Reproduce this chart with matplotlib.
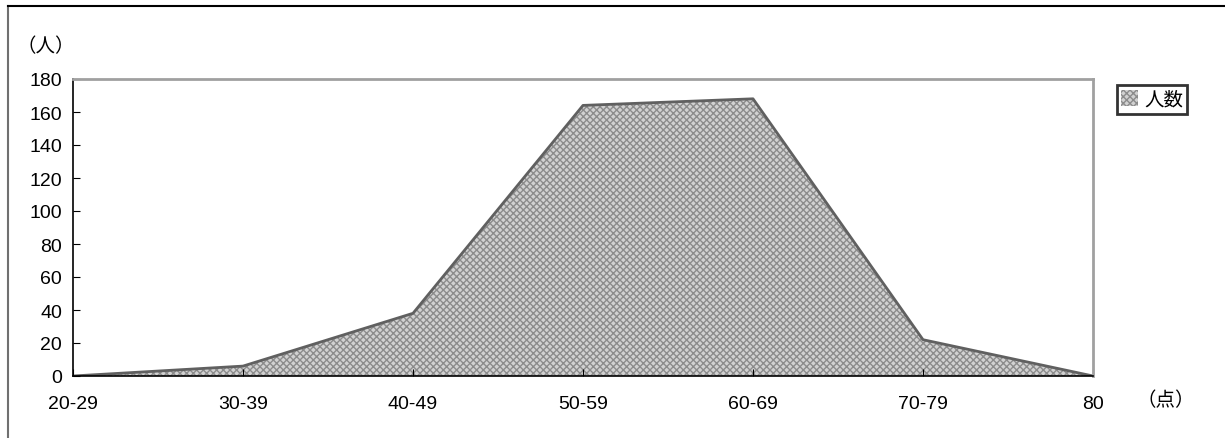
import matplotlib.pyplot as plt
from matplotlib.lines import Line2D
from matplotlib.patches import Patch

plt.rcParams['font.family'] = ['Liberation Sans', 'Noto Sans CJK JP', 'DejaVu Sans']
plt.rcParams['hatch.color'] = '#8c8c8c'
plt.rcParams['hatch.linewidth'] = 1.0

# score bands and number of people
labels = ['20-29', '30-39', '40-49', '50-59', '60-69', '70-79', '80']
counts = [0, 6, 38, 164, 168, 22, 0]
yticks = [0, 20, 40, 60, 80, 100, 120, 140, 160, 180]

fig = plt.figure(figsize=(12.25, 4.39), dpi=100)
ax = fig.add_axes([73 / 1225, 1 - 377 / 439, 1020 / 1225, 297 / 439])

x = list(range(len(labels)))
ax.fill_between(x, counts, 0, facecolor='#d2d2d2', hatch='xxxxx',
                edgecolor='#8c8c8c', linewidth=0)
ax.plot(x, counts, color='#606060', linewidth=2)

ax.set_xlim(0, len(labels) - 1)
ax.set_ylim(0, 180)
ax.set_xticks(x)
ax.set_xticklabels(labels)
ax.set_yticks(yticks)
ax.tick_params(direction='in', length=5, labelsize=14, colors='black', pad=8)
ax.tick_params(axis='x', pad=14)

for s in ['left', 'bottom']:
    ax.spines[s].set_color('black')
    ax.spines[s].set_linewidth(1.2)
for s in ['top', 'right']:
    ax.spines[s].set_color('#a0a0a0')
    ax.spines[s].set_linewidth(2)

fig.text(16 / 1225, 1 - 47 / 439, '（人）', fontsize=14, va='center', family='Noto Sans CJK JP')
fig.text(1136 / 1225, 1 - 401 / 439, '（点）', fontsize=14, va='center', family='Noto Sans CJK JP')

leg = fig.legend(handles=[Patch(facecolor='#d2d2d2', hatch='xxxxx', edgecolor='#8c8c8c', linewidth=0)],
                 labels=['人数'], loc='upper left', bbox_to_anchor=(1117 / 1225, 1 - 86 / 439),
                 prop={'family': 'Noto Sans CJK JP', 'size': 14}, frameon=True, fancybox=False,
                 handlelength=0.9, handleheight=0.9, handletextpad=0.3, borderpad=0.2,
                 borderaxespad=0)
leg.get_frame().set_edgecolor('black')
leg.get_frame().set_linewidth(2)

# outer chart border (clipped at right and bottom)
fig.add_artist(Line2D([8 / 1225, 8 / 1225], [0, 1 - 7 / 439], color='#707070', linewidth=1.5,
                      transform=fig.transFigure))
fig.add_artist(Line2D([8 / 1225, 1], [1 - 7 / 439, 1 - 7 / 439], color='black', linewidth=1.5,
                      transform=fig.transFigure))

fig.savefig('out.png', dpi=100)
